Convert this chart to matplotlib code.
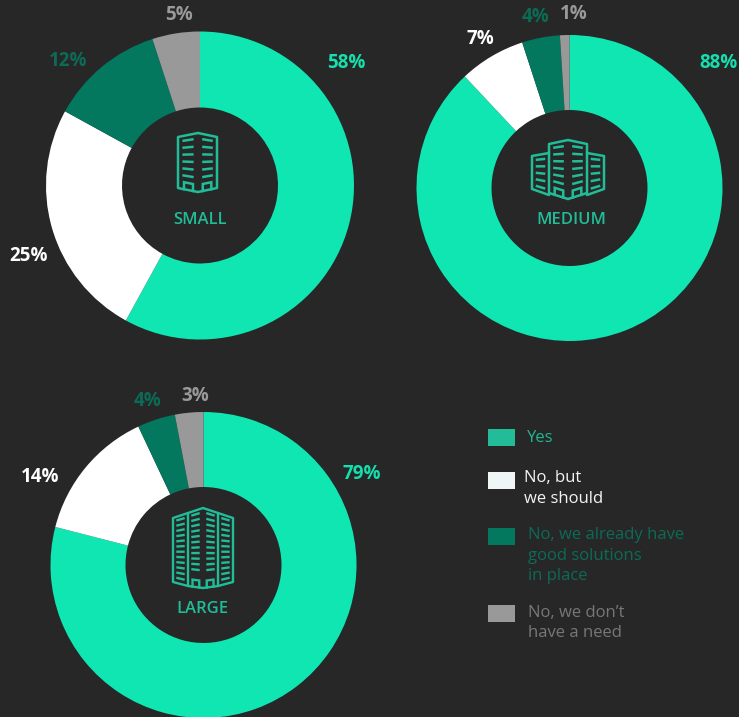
import matplotlib
matplotlib.use("Agg")
import matplotlib.pyplot as plt
from matplotlib.patches import Rectangle

W, H = 739, 717
BG = "#272727"
plt.rcParams["font.family"] = ["Open Sans", "DejaVu Sans"]

# share of companies per answer, clockwise from the top
answers = ["Yes", "No, but\nwe should", "No, we already have\ngood solutions\nin place", "No, we don\u2019t\nhave a need"]
small_vals = [58, 25, 12, 5]
medium_vals = [88, 7, 4, 1]
large_vals = [79, 14, 4, 3]
sizes = ["SMALL", "MEDIUM", "LARGE"]

ring_colors = ["#0fe6b2", "#ffffff", "#03785f", "#999999"]
label_colors = ["#14e0ae", "#ffffff", "#0b6b56", "#999999"]
swatch_colors = ["#22bd98", "#f0f6f6", "#03785f", "#999999"]
legend_text_colors = ["#1fb893", "#f4f4f4", "#0b6b56", "#777777"]
ICON = "#20bd98"


def yy(py):
    # pixel rows run downward, the axes run upward
    return H - py


def wing(ax, x_out, x_in, top_out, top_in, bot_out, bot_in, rows, door=False, lw=1.8):
    # one face of a building, windows slanting towards the inner edge
    ax.plot([x_in, x_out, x_out, x_in], [yy(top_in), yy(top_out), yy(bot_out), yy(bot_in)],
            color=ICON, lw=lw, solid_joinstyle="round", solid_capstyle="round", zorder=5)
    width = x_in - x_out
    slope_top = (top_in - top_out) / width
    slope_bot = (bot_in - bot_out) / width
    x1 = x_out + 0.22 * width
    x2 = x_out + 0.78 * width
    span = (bot_out - top_out) * (0.80 if door else 0.96)
    for i in range(rows):
        f = (i + 0.7) / (rows + 0.2)
        y0 = top_out + f * span
        s = slope_top + (slope_bot - slope_top) * f
        ax.plot([x1, x2], [yy(y0 + s * (x1 - x_out)), yy(y0 + s * (x2 - x_out))],
                color=ICON, lw=lw, solid_capstyle="butt", zorder=5)
    if door:
        d1 = x_out + 0.30 * width
        d2 = x_out + 0.75 * width
        b1 = bot_out + slope_bot * (d1 - x_out)
        b2 = bot_out + slope_bot * (d2 - x_out)
        ax.plot([d1, d1, d2, d2], [yy(b1), yy(b1 - 7), yy(b2 - 7), yy(b2)],
                color=ICON, lw=lw, solid_joinstyle="miter", zorder=5)


fig = plt.figure(figsize=(W / 100, H / 100), dpi=100, facecolor=BG)
ax = fig.add_axes([0, 0, 1, 1])

donuts = [
    (small_vals, 200, 185.5, 154, 78),
    (medium_vals, 569.5, 188, 153, 78),
    (large_vals, 203.5, 565, 153, 78),
]
for vals, cx, cy, r_out, r_in in donuts:
    ax.pie(vals, colors=ring_colors, startangle=90, counterclock=False,
           center=(cx, yy(cy)), radius=r_out,
           wedgeprops={"width": r_out - r_in, "linewidth": 0})

ax.set_xlim(0, W)
ax.set_ylim(0, H)
ax.set_aspect("equal")
ax.axis("off")

# percentage labels
small_xy = [(346, 63), (29, 256), (68, 61), (179, 15)]
medium_xy = [(718, 63), (480, 39), (536, 17), (574, 14)]
large_xy = [(362, 474), (40, 477), (148, 401), (195, 396)]
for vals, points in [(small_vals, small_xy), (medium_vals, medium_xy), (large_vals, large_xy)]:
    for v, (px, py), col in zip(vals, points, label_colors):
        ax.text(px, yy(py), f"{v}%", color=col, fontsize=13.5, fontweight="bold",
                ha="center", va="center")

# size captions in the holes
for name, px, py in zip(sizes, [199.5, 571, 202], [220, 219.5, 609]):
    ax.text(px, yy(py), name, color=ICON, fontsize=12, fontweight="semibold",
            ha="center", va="center")

# small building
wing(ax, 178, 198, 137, 133, 188, 192, 6, door=True)
wing(ax, 217, 198, 137, 133, 188, 192, 6, door=True)

# medium building: two front faces and two side blocks
wing(ax, 549, 568, 144, 140, 193, 199, 6, door=True)
wing(ax, 587, 568, 144, 140, 193, 199, 6, door=True)
wing(ax, 532, 549, 156, 153, 189, 195, 5)
wing(ax, 604, 587, 156, 153, 189, 195, 5)

# large building: same layout, taller with more floors
wing(ax, 188, 203, 513, 508, 586, 588, 11, door=True, lw=1.7)
wing(ax, 218, 203, 513, 508, 586, 588, 11, door=True, lw=1.7)
wing(ax, 173, 188, 518, 513, 582, 586, 12, lw=1.7)
wing(ax, 233, 218, 518, 513, 582, 586, 12, lw=1.7)

# legend
swatch_y = [437, 480, 536, 613]
text_x = [527, 524, 527.5, 527.5]
text_y = [437.5, 488.5, 555.5, 623]
for name, sy, tx, ty, sc, tc in zip(answers, swatch_y, text_x, text_y, swatch_colors, legend_text_colors):
    ax.add_patch(Rectangle((488, yy(sy + 8.5)), 27, 17, facecolor=sc, edgecolor="none"))
    ax.text(tx, yy(ty), name, color=tc, fontsize=12, linespacing=1.36, ha="left", va="center")

fig.savefig("out.png", dpi=100, facecolor=BG)
